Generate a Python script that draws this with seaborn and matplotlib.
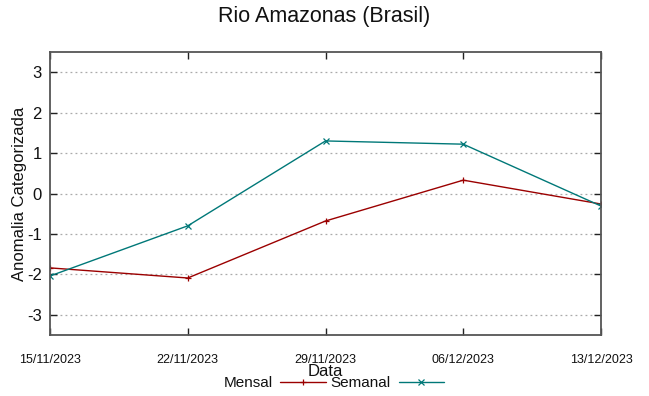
import matplotlib
matplotlib.use("Agg")
import matplotlib.pyplot as plt
import seaborn as sns
import pandas as pd

dates = ["15/11/2023", "22/11/2023", "29/11/2023", "06/12/2023", "13/12/2023"]
mensal = [-1.84, -2.09, -0.68, 0.33, -0.26]
semanal = [-2.04, -0.80, 1.30, 1.22, -0.31]
yticks = [-3, -2, -1, 0, 1, 2, 3]

sns.set_style("white")
plt.rcParams['font.family'] = ['Liberation Sans', 'DejaVu Sans']
plt.rcParams['text.color'] = '#111111'
plt.rcParams['axes.labelcolor'] = '#111111'
plt.rcParams['xtick.color'] = '#111111'
plt.rcParams['ytick.color'] = '#111111'

d = pd.to_datetime(dates, format="%d/%m/%Y")
df = pd.DataFrame({"Data": list(d) * 2,
                   "valor": mensal + semanal,
                   "serie": ["Mensal"] * 5 + ["Semanal"] * 5})

fig = plt.figure(figsize=(6.49, 3.96), dpi=100)
ax = fig.add_axes([50/649, 61/396, 551/649, 283/396])

palette = {"Mensal": "#9b0000", "Semanal": "#007878"}
sns.lineplot(data=df, x="Data", y="valor", hue="serie", style="serie",
             markers={"Mensal": "+", "Semanal": "x"}, dashes=False,
             palette=palette, linewidth=1.0, markersize=5, markeredgewidth=0.9,
             ax=ax, legend=True)
for ln in ax.lines:
    ln.set_markeredgecolor(ln.get_color())

ax.set_xlim(d[0], d[-1])
ax.set_ylim(-3.5, 3.5)
ax.set_xticks(d)
ax.set_xticklabels(dates, fontsize=9)
ax.set_yticks(yticks)
ax.set_yticklabels([str(v) for v in yticks], fontsize=12)
ax.yaxis.grid(True, linestyle=(0, (1.5, 2.5)), color="#aaaaaa", linewidth=0.9)
ax.xaxis.grid(False)
ax.tick_params(axis="both", direction="in", length=5, color="#222222",
               top=True, right=True, bottom=True, left=True, width=1)
ax.tick_params(axis="x", pad=14)
ax.tick_params(axis="y", pad=6)
for s in ax.spines.values():
    s.set_color("#555555")
    s.set_linewidth(1.3)

ax.set_xlabel("Data", fontsize=12, labelpad=-2)
ax.set_ylabel("Anomalia Categorizada", fontsize=12, labelpad=0)
fig.suptitle("Rio Amazonas (Brasil)", fontsize=15.5, y=0.985)

h, l = ax.get_legend_handles_labels()
for hh in h:
    hh.set_markeredgecolor(hh.get_color())
ax.legend(h, l, loc="center", bbox_to_anchor=(334/649, 13/396),
          bbox_transform=fig.transFigure, ncol=2, frameon=False,
          markerfirst=False, fontsize=11, handlelength=3.0,
          columnspacing=0.3, handletextpad=0.5, borderpad=0)

fig.savefig("out.png", dpi=100)
